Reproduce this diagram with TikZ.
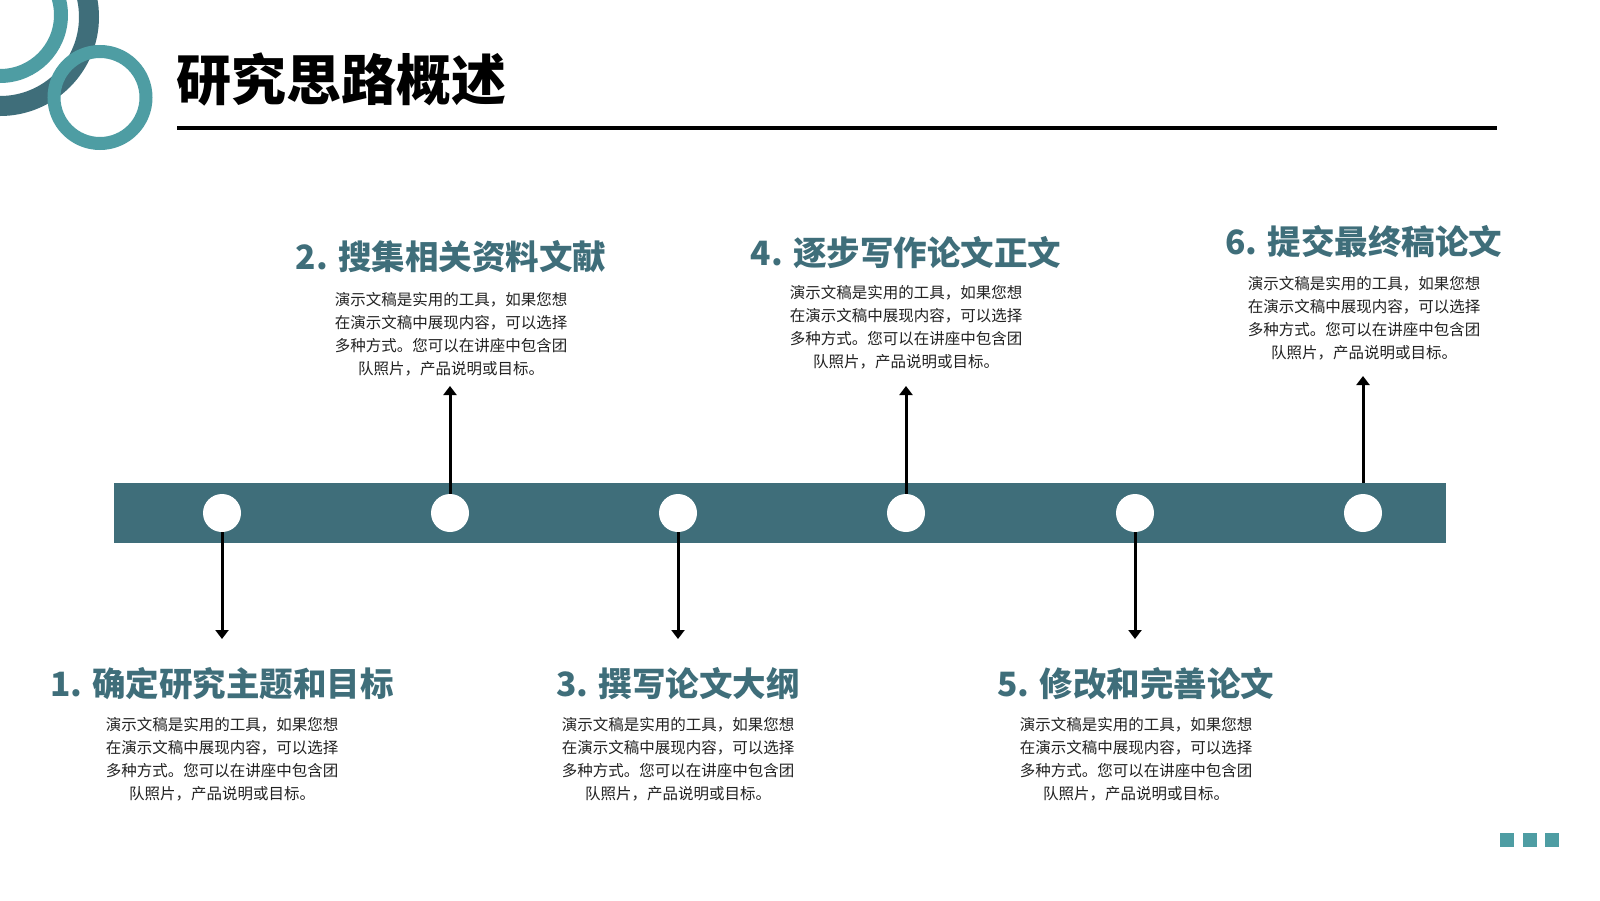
\documentclass[tikz,border=0pt]{standalone}
\usepackage{fontspec}
\setmainfont{Noto Sans CJK SC}
\usetikzlibrary{arrows.meta}
\definecolor{darkteal}{HTML}{3F6E7A}
\definecolor{lightteal}{HTML}{4E9DA3}
\definecolor{bodygray}{HTML}{222222}
\begin{document}
\begin{tikzpicture}[x=1pt,y=-1pt,
  dot/.style={circle, fill=white, minimum size=38pt, inner sep=0pt},
  head/.style={font=\fontsize{33.5}{40}\selectfont\bfseries, text=darkteal, inner sep=0pt},
  body/.style={font=\fontsize{15.5}{23}\selectfont, align=center, text=bodygray, inner sep=0pt},
  arr/.style={line width=3pt, -{Triangle[width=13pt,length=9pt]}},
  sq/.style={fill=lightteal, minimum size=14pt, inner sep=0pt}]
\useasboundingbox (0,0) rectangle (1600,900);
\fill[white] (0,0) rectangle (1600,900);
% decorative rings
\begin{scope}
\clip (0,0) rectangle (1600,900);
\draw[darkteal, line width=20pt] (0,17) circle[radius=89];
\draw[lightteal, line width=14pt] (0,15) circle[radius=61];
\draw[lightteal, line width=13pt] (100,97.5) circle[radius=46];
\end{scope}
% title
\node[anchor=west, inner sep=0pt, font=\fontsize{55}{60}\selectfont\bfseries] (title) at (176,80) {研究思路概述};
\coordinate (rl) at (177,128);
\coordinate (rr) at (1497,128);
\draw[line width=3.5pt] (rl) -- (rr);
% bar
\node[fill=darkteal, minimum width=1332pt, minimum height=60pt, inner sep=0pt] (bar) at (780,513) {};
\foreach \i/\x in {1/222,2/450,3/678,4/906,5/1135,6/1363}{
  \node[dot] (c\i) at (\x,513) {};
}
% end points
\coordinate (e1) at (222,639);
\coordinate (e2) at (450,386);
\coordinate (e3) at (678,639);
\coordinate (e4) at (906,386);
\coordinate (e5) at (1135,639);
\coordinate (e6) at (1363,376);
\draw[arr] (c1.south) -- (e1);
\draw[arr] (c2.north) -- (e2);
\draw[arr] (c3.south) -- (e3);
\draw[arr] (c4.north) -- (e4);
\draw[arr] (c5.south) -- (e5);
\draw[arr] (c6 |- bar.north) -- (e6);
% headings
\node[head] (h1) at (222,684) {1. 确定研究主题和目标};
\node[head] (h2) at (451,257) {2. 搜集相关资料文献};
\node[head] (h3) at (678,684) {3. 撰写论文大纲};
\node[head] (h4) at (906,253) {4. 逐步写作论文正文};
\node[head] (h5) at (1136,684) {5. 修改和完善论文};
\node[head] (h6) at (1364,242) {6. 提交最终稿论文};
% bodies
\newcommand{\bodytext}{演示文稿是实用的工具，如果您想\\在演示文稿中展现内容，可以选择\\多种方式。您可以在讲座中包含团\\队照片，产品说明或目标。}
\node[body] (b1) at (222,759) {\bodytext};
\node[body] (b2) at (451,334) {\bodytext};
\node[body] (b3) at (678,759) {\bodytext};
\node[body] (b4) at (906,327) {\bodytext};
\node[body] (b5) at (1136,759) {\bodytext};
\node[body] (b6) at (1364,318) {\bodytext};
% squares
\node[sq] (s1) at (1507,840) {};
\node[sq] (s2) at (1530,840) {};
\node[sq] (s3) at (1552,840) {};
\end{tikzpicture}
\end{document}
